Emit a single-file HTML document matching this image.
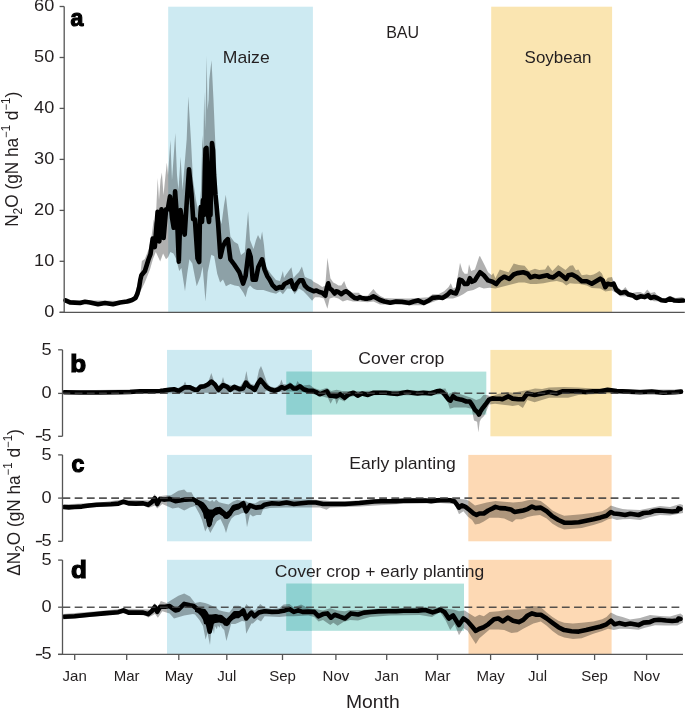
<!DOCTYPE html>
<html><head><meta charset="utf-8"><style>
html,body{margin:0;padding:0;background:#fff;}
body{width:685px;height:709px;overflow:hidden;}
svg{display:block;will-change:transform;}
text{font-family:"Liberation Sans",sans-serif;fill:#231f20;}
</style></head><body>
<svg width="685" height="709" viewBox="0 0 685 709">

<rect x="168.2" y="6.7" width="144.7" height="305.3" fill="#cdeaf2"/>
<rect x="491.2" y="6.7" width="120.9" height="305.3" fill="#fae5b1"/>
<rect x="167" y="349.9" width="145" height="86.4" fill="#cdeaf2"/>
<rect x="490.4" y="349.9" width="121.3" height="86.4" fill="#fae5b1"/>
<rect x="167" y="454.9" width="145" height="86.4" fill="#cdeaf2"/>
<rect x="468.3" y="454.9" width="143.3" height="86.4" fill="#fdd9b4"/>
<rect x="167" y="559.8" width="144.8" height="94.5" fill="#cdeaf2"/>
<rect x="468.5" y="559.8" width="143.1" height="94.5" fill="#fdd9b4"/>
<rect x="286.4" y="371.6" width="199.9" height="43" fill="#b1e2dc"/>
<rect x="286.4" y="371.6" width="25.6" height="43" fill="#8ed1d1"/>
<rect x="286.3" y="583.6" width="177.7" height="47.2" fill="#b1e2dc"/>
<rect x="286.3" y="583.6" width="25.5" height="47.2" fill="#8ed1d1"/>
<path d="M64.5,300 L130,301 L135,294 L138,282 L139.9,276.7 L141.9,261 L144.8,259 L148.8,249 L151.7,235 L153.7,219.4 L155.5,225 L157.7,178 L159,200 L160.5,180 L161.9,172.5 L163.5,195 L166.8,162.6 L168,175 L170.4,140 L172,180 L175.3,133 L177,175 L178.5,190 L180.6,156.7 L182.5,190 L186.7,139 L188.3,96.3 L190.9,139 L193,180 L196,200 L199,215 L201,190 L202.4,135 L203.3,150 L204.2,91.9 L205.2,130 L206.7,55.7 L207.5,110 L208.6,100 L209.3,79.2 L211.5,60.2 L213.5,100 L215.6,150 L217.7,213.8 L221.5,224 L224,205 L225.8,194.7 L227.5,210 L230.4,236.6 L234.2,241.7 L238,244 L241,255 L244.8,252 L246.5,230 L248.1,211.2 L250,240 L253.5,249 L256,240 L258,235 L260.5,240 L262.1,231.5 L264,245 L266,267 L271,274 L276,280 L280,281 L282.9,270.9 L284,278 L285.8,275 L288,272 L291.4,267.2 L293.5,278 L296,275 L299,272 L301.9,266.5 L304.8,276.7 L307.7,278.2 L311.4,279.6 L313.6,281.8 L318,284 L322.3,287 L325.3,285.5 L327.4,257.7 L330.4,278.2 L333.3,282.6 L336.2,284 L338.4,285.5 L341.3,285.5 L344.2,281.1 L346.4,286.9 L349.3,291.3 L353,292.8 L358.8,292.8 L361.7,295.7 L367.6,295.7 L373.4,289.1 L376.4,292.8 L380,295.7 L384.4,297.9 L394.6,298.6 L409.2,298.6 L418,297.9 L428.2,297.2 L432.6,294.2 L438.4,294.2 L444.2,291.3 L448.6,286.9 L450.8,283.3 L453,288.4 L455.9,287 L460,262.8 L462.5,270.9 L464.7,273.8 L467.6,273.8 L469,264.3 L471.2,270.9 L474.9,269.4 L479.3,256.3 L480.1,256.3 L483.8,263.6 L488.1,272.3 L491.8,275.3 L493.2,273.1 L495.4,278.2 L499.8,269.4 L504.2,270.9 L508.6,272.3 L513.7,263.6 L518.8,265 L524.6,265.8 L529,270.9 L534.9,268.7 L539.2,270.1 L545.1,269.4 L548,265 L552.4,270.9 L558.2,265 L562.6,268 L565.5,270.1 L569.9,265.8 L573,265.3 L575.9,270.3 L578.4,269.5 L581.8,275.3 L586.8,274.5 L590.1,275.3 L593.5,274.5 L596.9,272.8 L599.4,271.1 L601.9,273.6 L605.3,281.2 L607.8,277.8 L612,277 L614.5,283.7 L618.7,287.9 L622,290.4 L625.4,287 L628.8,292.1 L632.1,293 L637.1,292.1 L640.5,292.1 L643.9,293.8 L647.2,289.6 L650.6,293 L654.8,292.1 L657.3,295.5 L661.5,298 L665.7,298.8 L670.7,296.3 L675.8,298 L681.6,297.1 L684.5,298 L684.5,302.2 L677.4,302.5 L670.7,301.8 L664,302.5 L659,301.3 L653.9,301.3 L648.9,298.8 L642.2,298.8 L637.1,299.7 L632.1,298 L625.4,296.3 L620.4,296.3 L616.2,293 L612,290.4 L605.3,291.4 L600.2,288.5 L591.8,287.9 L586.8,285.4 L578.4,283.7 L575,283.7 L569.9,283.3 L566.2,285.5 L562.6,282.6 L556.8,281.1 L550.9,281.8 L543.6,283.3 L536.3,284 L530.5,284 L524.6,282.6 L518.8,282.6 L513,284 L504.2,286.2 L495.4,288.4 L489.6,287.7 L483.8,288.4 L479.3,287 L473.4,289.9 L467.6,291.3 L463.2,294.2 L458.8,296.4 L453,298.6 L447.2,298.6 L438.4,300 L423.8,305.2 L409.2,305.2 L394.6,304.5 L380,304.5 L373.4,301.5 L367.6,302.3 L358.8,301.5 L353,301.5 L347.2,300 L342.8,301.5 L338.4,298.6 L334,297.2 L329.6,298.6 L327.4,308.8 L323.8,298.6 L319.4,297.2 L315,297.2 L312.1,300.8 L307.7,295.7 L303.4,291.3 L299,288.4 L294.6,294.2 L291.7,289.1 L287.3,288.4 L282.9,294.2 L280,291.3 L276.1,293.8 L271,292.5 L263.4,290 L257,290 L253.2,288.6 L250,285.5 L247.8,288.4 L245.6,297.2 L243.4,292.8 L239,286.2 L234.7,285.5 L230.3,284 L225.9,286.2 L223,279.6 L220.1,282.6 L217.2,273.8 L214.2,256.3 L211.3,254.8 L207.7,272.3 L205.5,301.5 L202.6,266.5 L200.4,276.7 L196.7,286.2 L192.3,263.6 L189.4,259.2 L187.2,273.8 L185,291.3 L181.4,268 L179.2,270.9 L176.3,259.2 L173.4,253.4 L170.4,251.9 L168.2,257 L166,259.2 L163.1,253.4 L160.2,261.4 L155.8,251.9 L152.9,259.2 L150,269.4 L144.8,282.6 L139.9,292.5 L135,301 L130,303.5 L64.5,302.5Z" fill="rgba(0,0,0,0.31)"/>
<path d="M62.5,390.5 L160,389 L170,387.5 L178,388 L183.5,385 L185,381.5 L186.5,385 L190,385 L196,387.5 L200,384.5 L205,383.5 L208.4,381.5 L211.3,373.1 L214.2,381.5 L218,386.5 L221.5,382.5 L223,376.9 L224.5,382.5 L228,384.5 L232,385.5 L235,384.5 L240,386.5 L244.5,380 L246.4,371 L248,380 L251,384 L255,385 L256.6,381 L259,370 L261,366.1 L263,371 L266.8,382 L270,386.5 L276,387.5 L280,384 L281.4,379.5 L283,384 L287,384.5 L290,382 L292,385 L296,385 L297.4,381 L299,383 L303,385.5 L309.5,384.8 L314,388 L320,390 L327,387.7 L331,391 L336.6,389.8 L342,391 L350,391 L360,391 L380,390.5 L420,390.5 L430,390.5 L440,389 L445.4,388.4 L448,394 L455,391.6 L460,394 L466,396 L472,398 L476.1,400 L480.5,398.6 L483.4,394.9 L487,395 L491,396.4 L498,394 L507,392 L513,392.8 L525,390.5 L530,389.8 L535,388.4 L542,389 L549,387.6 L564,386.9 L578,387.6 L593,388.4 L608,388.4 L620,389.5 L683,389.5 L683,394 L620,393.5 L607.6,393.5 L593,394.2 L578.4,394.9 L568.2,397.8 L558,397.8 L549.2,397.8 L541.9,400 L534.6,402.2 L527.3,400 L522.9,408 L518.4,405 L512.6,405.9 L505,405 L495,403.7 L489.2,404.5 L486.7,410.2 L484.1,416 L481,419 L479.7,421.7 L478.4,432.5 L477.1,421.7 L475.2,421 L474,420.4 L471.7,408.8 L466,407.4 L460,407.4 L454,407.4 L449.8,408.8 L447,400 L444,394 L440,394.2 L430,395.5 L380,395 L355,396 L348,397 L344.6,401.5 L339,399 L336.6,404.4 L335,398.7 L333,399 L330.6,403.8 L328,398 L322.6,396.5 L316.8,395 L308,392.8 L296.3,391.4 L287.6,391.4 L279,392 L267,390.7 L261.3,393.6 L255,392 L250,392.8 L244,392.8 L235,391.4 L220,393 L211,393 L200,392.5 L180,393.5 L160,393.2 L62.5,394Z" fill="rgba(0,0,0,0.31)"/>
<path d="M62.5,504.5 L100,502.5 L123,499.5 L150,500.5 L154.9,494 L157,500 L161,496 L167,495.3 L171,495.3 L178.4,490.8 L184.2,489.4 L187,492.3 L191.5,492.3 L195,499 L199,498.5 L203,499 L206.5,500 L210,501.5 L212.5,500.1 L214,502 L216.2,499.4 L219,502.3 L224,503.5 L228.6,504.5 L232.9,501.6 L237.3,499.7 L241.7,500.8 L245,500.5 L248.4,502.5 L255,503.5 L260,500.5 L270,500 L290,499.5 L312,499.5 L330,501 L350,501 L370,499.5 L400,498.5 L440,498 L454.6,498.9 L460,498.9 L466,499.6 L469.2,501.1 L475,505.4 L480.9,504 L486.7,502.5 L495.5,501.1 L504.2,501.8 L513,502.5 L521.8,501.8 L527.6,500.3 L533.4,499.6 L540.8,501.1 L546.7,505.4 L552.5,510.5 L558.4,513.5 L564.2,515.7 L573,514.9 L581.7,514.2 L593.4,512.7 L602.2,511.3 L606.5,509.1 L610.9,505.4 L616.8,507.6 L622.6,509.1 L628,509.5 L640,510 L650,508 L660,506 L670,507 L680,504 L683,505 L683,513 L670,515.5 L660,515 L650,517 L640,520 L630,519 L622.6,519.3 L616.8,520 L612.4,518.6 L608,519.3 L602.2,522.2 L593.4,525.1 L581.7,528.1 L573,528.8 L564.2,529.5 L558.4,527.3 L552.5,523.7 L546.7,518.6 L540,515 L533.4,515.7 L527.6,517.1 L521.8,519.3 L515.9,519.3 L512.3,522.2 L504.2,518.6 L498.4,517.8 L489.6,517.8 L483.8,521.5 L479.4,523.7 L475,524.4 L472.1,520 L467.7,516.4 L463.4,511.3 L459,514.2 L454.6,504 L440,503 L400,504 L360,506.5 L330,507.5 L326.6,509.8 L320,507.5 L300,507.5 L285,507.6 L270,508 L263,509.5 L261,515 L256.6,514.9 L252.9,516.4 L249.9,514.2 L247,527.3 L245,512.5 L241.7,513.2 L238.8,514.7 L235.1,515.4 L231.5,518.4 L228.6,524.2 L226,533 L224.2,527.1 L220.5,519.1 L216.9,521.3 L213.2,527.8 L210.3,533 L207.5,527 L205.2,531.5 L202,520 L199.4,514 L195,506 L190,507.6 L184.2,510.5 L178.4,507.6 L172.5,508.4 L162.3,504 L157.2,508.4 L155,505.4 L148.3,508 L145,506 L123,504.5 L100,507 L62.5,509.5Z" fill="rgba(0,0,0,0.31)"/>
<path d="M62.5,614 L100,611 L123,608.5 L150,609.5 L154.9,603 L157,609 L160.8,601 L166.7,603.1 L171,600.2 L178.4,595.8 L184.2,593.6 L190,596.6 L195,603 L200,602 L205,603 L208,604 L211.8,605.8 L216,607.3 L219,610.2 L224,611.5 L229.3,612.4 L232,609 L234.4,605.8 L238.8,605.8 L242,607 L245,607.5 L246.2,603.9 L251.4,609 L255,610.4 L260.2,603.9 L264.6,607.5 L271.9,609 L279.2,608.2 L283.6,604.6 L289.4,603.9 L293.8,607.5 L301.1,604.6 L308.4,608.2 L315.7,609 L323,610.4 L330.3,608.2 L337.6,610.4 L344.9,611.2 L350,610 L360,610 L380,608.5 L420,607.5 L440,607.5 L448.8,609 L454.6,609.7 L459,611.2 L464.8,610.4 L469.2,613.4 L475,617 L479.4,614.8 L483.8,616.3 L489.6,611.9 L498.4,611.2 L507.2,609.7 L515.9,609.7 L524.7,609 L532,606.1 L540,606.5 L546.7,612.6 L552.5,617 L558.4,620.7 L564.2,622.8 L573,623.6 L581.7,622.8 L593.4,621.4 L602.2,619.2 L606.5,617 L610.9,612.6 L616.8,615.5 L622.6,617 L630,619.5 L640,618 L650,615 L660,616 L670,616.5 L680.4,613.4 L683,615.5 L683,622.6 L677.3,625.6 L666.1,625.6 L655,625.2 L645,627.7 L638.5,629.8 L630,629 L625.5,628.7 L619.7,628.7 L613.8,630.1 L608,628.7 L602.2,630.9 L593.4,633.8 L581.7,638.2 L573,638.9 L564.2,637.4 L558.4,635.3 L552.5,630.9 L546.7,625.8 L540.8,621.4 L533.4,623.6 L527.6,626.5 L523.2,628.7 L517.4,632.3 L511.5,633.1 L504.2,630.1 L498.4,629.4 L489.6,629.4 L483.8,634.5 L479.4,638.2 L475.8,644 L472.1,638.2 L467.7,630.9 L463.4,628 L459,635.3 L454.6,624.3 L450.2,630.1 L445.8,620.7 L440,612 L432,617 L420,615 L390,615.5 L370,617 L358,620.5 L350,619.9 L343.4,622.1 L337.6,625.8 L333.3,622.8 L330.3,625 L323,619.9 L318.6,621.4 L314.2,617 L308.4,615.5 L293.8,616.3 L286.5,616.3 L279.2,617 L264.6,616.3 L261,621.4 L257.3,619.2 L252.9,623.6 L251.4,623.6 L246.2,633.8 L245,621.5 L242,621 L238.8,622.6 L235.1,624.1 L231.1,624.1 L228.6,633 L226.4,640.9 L224.2,630 L222.2,628 L220.5,625 L219.5,627.7 L217.8,625.5 L216.9,629.2 L214.8,626 L214,634 L212.5,626 L211,634 L210,645 L207.5,633 L205.6,639.4 L203,626 L199.4,620 L195,614.5 L193,614.1 L184.2,615.5 L174,618.5 L169.6,613.4 L162.3,611.2 L157.9,617.7 L155,614.1 L148.3,617.5 L145,615.5 L123,613.5 L100,616 L62.5,619.5Z" fill="rgba(0,0,0,0.31)"/>
<path d="M195,499.4 L197.9,500.8 L202.3,501.9 L204,503 L206,505.2 L208.1,508.5 L209.6,509.6 L212.5,509.6 L215.4,507.4 L217.6,507 L220.5,508.5 L223.5,510.7 L226.4,512.2 L229.3,510 L231.5,506.7 L234.4,505.2 L237.3,504.5 L240.3,503.8 L243.2,502.3 L245,502.3 L245,508.1 L241.7,507.4 L238.8,509.6 L235.9,510.3 L233,511.8 L230.8,513.2 L229.3,517.7 L227.1,519.1 L224.2,518.4 L222.7,516.2 L219.1,514 L215.4,515.4 L212.9,518.4 L211.8,524.2 L209.6,527.5 L207.8,526.4 L206,519.1 L204.1,518.4 L203,513.2 L200.8,508.9 L197.9,505.5 L195,504.5Z" fill="#000"/>
<path d="M195,606.6 L197.9,608 L202.3,608.4 L205.2,609.1 L207.4,611.7 L208.9,614.6 L211.8,614.6 L215.4,613.9 L216.9,614.2 L220.5,616.1 L224.2,617.9 L226.4,619 L229.3,617.5 L231.5,613.9 L234.4,612.4 L237.3,612.8 L240.3,611.7 L243.2,608.8 L245,609.5 L245,616.8 L241.7,616.1 L238.8,618.2 L235.9,618.2 L233,619.7 L230.8,621.9 L229.3,624.8 L227.1,626.3 L224.2,625.5 L222.7,623.4 L219.1,622.6 L215.4,623 L212.9,624.1 L211.8,631.4 L210,633.9 L208.1,632.8 L206.7,624.8 L204.1,624.1 L203,619.7 L200.8,616.1 L197.9,613.1 L195,611.7Z" fill="#000"/>
<polyline points="65.5,300.3 70,302.4 80,303 85,301.8 90,302.5 98,304.2 105,303 113,304.2 120,302.5 127,301.5 132,300 135.5,298 137.5,293.5 139.2,287 140.3,280 141.4,275.3 144.9,271 148.4,259.8 150.5,254.1 152.7,238.6 154.8,247.1 157.6,211.8 159.3,241.4 161.5,209.2 163.6,238 166.1,209.2 167.8,209.2 170,196.4 172,217.6 173.7,227.8 175.1,191.4 177.1,219.3 178.8,261.7 180.5,210 183,227.8 184.7,234.6 186.4,207.5 189,169.3 191.5,193.9 193.2,219.3 194.9,219.3 197.5,258.3 199.2,262 199.8,225 200.8,207 202,222 203,200 204,215 204.8,172 205.5,149 206.5,148 207.3,175 208,215 209,222 209.8,200 210.5,215 211.3,170 212,143 213,150 214,175 215.5,195 216.5,205 218,222 220.4,257 222.8,246.8 225.3,241.7 227.8,239.1 230.4,259.4 234.2,264.5 236.7,268.3 239.3,272.1 243.1,283.6 245.6,276 248.7,250.6 250.7,256.9 252.7,279.7 255.8,279.7 258.3,267 262.1,259.4 264.6,269.6 267.2,275.9 269.7,279.7 272.3,284.8 276.1,288.6 280,287 282.2,287.7 284.4,284 287.3,282.6 291,280.4 293.1,286.9 294.6,289.1 296.8,284 299.7,280.4 302.6,280.4 304.8,285.5 307.7,288.4 310.7,289.9 313.6,291.3 316.5,290.6 319.4,292 322.3,292.8 325.3,295.7 326.7,288.4 328.2,283.3 329.6,288.4 331.8,289.9 334.7,293.5 336.2,291.3 338.4,292 341.3,294.2 344.2,292 346.4,291.3 348.6,292.8 351.5,295.7 354.5,297.9 357.4,298.6 359.6,297.2 361.8,297.9 364.7,298.6 367.6,298.6 370.5,297.9 373.4,296.4 376.4,297.9 380,300 384.4,301.5 390.2,302.7 396.1,301.5 401.9,301.8 409.2,303 413.6,301.5 418,300.4 423.8,303 428.2,300.8 432.6,297.9 438.4,297.2 442.8,297.9 447.2,295 450.8,291.3 453,292.8 455.9,293.5 458.1,288.4 459.6,279.6 461.8,280.4 464.7,284 467.6,284 469.8,278.2 472,281.8 474.9,280.4 477.1,276.7 480.1,272.3 483.8,275.3 488.1,280.4 492.5,281.8 496.2,284 499.8,279.6 504.2,276.7 509.3,278.9 513.7,274.5 517.3,273.1 523.2,272.3 527.6,273.8 530.5,277.4 534.9,276 539.2,277 543.6,276 547.3,275.3 549.5,276.7 553.1,277.4 556,275.3 558.9,273.1 562.6,276 566.2,278.9 568.4,275.3 572.1,274.5 576.7,277 581.8,281.2 586.8,281.2 591.8,283.7 596,281.2 600.2,278.7 602.7,280.4 605.3,287.1 607.8,283.7 611.1,284.6 613.6,283.7 616.2,289.6 620.4,293 625.4,292.1 628.8,294.6 633,295.5 636.3,298 640.5,296.3 644.7,297.1 648,295.1 650.6,298 653.9,296.8 657.3,298 661.5,300.2 665.7,300.8 669.9,298.5 674.1,300.5 679.1,300.8 683,300.5" fill="none" stroke="#000" stroke-width="4.6" stroke-linejoin="round" stroke-linecap="round"/>
<polyline points="64.3,392.3 80,392.5 100,392.5 120,392.2 130,392 140,391.3 150,391.2 160,391 163.5,390.6 169.3,389.8 174,389.2 178.7,391 184.5,387.4 189.8,387.4 195,389.8 197.4,389.8 200.3,386.9 204.4,386.3 207.9,384.5 211.4,381.6 214.9,384.5 218.4,389.8 223.1,385.1 227.2,386.9 230.1,389.8 234.2,386.9 239.4,389.2 243,388.5 246,382.6 248.9,386.3 251.8,387.7 254.7,389.9 257.6,384.1 260.5,379.7 263.5,383.4 266.4,387 270,389.2 274.4,390.7 278.8,389.2 281.7,387 284.6,388.5 287.6,387 290.5,385.5 293.4,388.5 296.3,388.5 300,386.3 303.6,389.2 308,390.7 312.4,390.7 316,392.1 319.7,394.3 323.3,392.8 327,391.4 329.9,395.8 332.8,395.8 336.6,396.4 340.2,394.2 344.6,397.8 349,394.2 353.4,392.7 357.7,395.7 362.1,393.5 368,394.9 373.8,392.7 379.6,392.7 385.5,392.7 391.3,393.5 397.2,393.9 403,392.7 407.4,392 411.8,392.7 417.6,393.5 423.4,392.7 430.8,393.5 436.7,391.3 440,390.9 442.6,392.3 445.3,395.3 448.8,399.7 450.5,400.6 453.1,396.2 455.8,398.4 459.3,399.3 462.8,400.1 466.3,401.5 469.8,401.5 472.4,405.4 475,409.8 477.7,412.4 479,414.6 480.3,411.5 482,408.9 485.5,404.5 489,399.7 492.5,398.4 496,398.8 500,398.8 502.4,399.3 508.2,396.4 512.6,398.6 518.4,399.3 522.9,399.3 527.3,393.5 534.6,394.9 541.9,393.5 549.2,392 556.5,393.5 562.3,391.3 571.1,391.3 578.4,391.3 585.7,392 593,391.3 600.3,391.3 607.6,389.8 616.7,391 628.4,391.6 640,392.2 651.7,391.6 663.4,392.8 675,392.2 681,391.6" fill="none" stroke="#000" stroke-width="4.6" stroke-linejoin="round" stroke-linecap="round"/>
<polyline points="64.3,507 68.8,507.4 74.6,507 81.9,506.6 89.2,505.5 96.5,504.8 103.8,504.5 111.1,504.2 118.4,503.6 123.5,501.6 128.6,503.4 135.9,503.6 143.2,503.4 148.3,504.8 152,501.9 154.9,498.2 157.2,504 160.1,498.9 163.8,499.6 169.6,498.9 175.4,501.1 181.3,500.3 185.7,499.6 193,499.3 197.3,501.8 201.7,504 205.4,509.1 207.6,514.2 209.3,524.4 211.2,515.7 214.9,512 219.2,509.1 223.6,512.7 226.5,516.4 229.5,514.2 233.8,506.9 239.7,505.4 243.3,503.2 246.2,511.3 249.9,505.4 255.8,507.6 261.7,506.9 264.6,504.7 271.9,503.2 279.2,503.7 286.5,502.5 293.8,504 301.1,503.2 308.4,502.5 315.7,502.5 323,504 327.4,504 331.8,504 337.6,504 344.9,504 352.3,503.5 359.6,503 366.9,502.3 374.2,501.5 381.5,501.3 388.8,501.3 396.1,501.2 403.4,500.8 410.7,500.6 418,500.6 425.3,500.5 431.1,501.2 437,500.4 444.4,500 450.2,500.2 454.6,501.5 457.5,505.4 459,507.6 461.9,505.4 465.5,506.9 469.2,509.8 473.6,513.5 476.5,514.9 479.4,513.5 483.8,513.5 488.2,510.5 492.6,508.4 495.5,506.9 499.9,508.1 505.7,508.4 511.5,509.8 514.5,512 518.8,511.3 523.2,510.5 527.6,509.1 532,506.6 535.6,508.1 540.8,507.6 546.7,511.3 552.5,516.4 558.4,520 564.2,522.7 571.5,522.7 578.8,522.2 586.1,520.8 593.4,519.3 600.7,517.4 606.5,515.7 610.9,512 613.8,513.5 619.1,514 625.2,515 630.3,513.7 638.5,515 643.6,513 649.7,512.5 653.8,511 658.9,510.4 666.1,511 672.2,511.5 677.3,511 678.5,508.4 680.5,508.9" fill="none" stroke="#000" stroke-width="4.6" stroke-linejoin="round" stroke-linecap="round"/>
<polyline points="64.3,616.7 74.6,616.3 89.2,614.8 103.8,613.4 118.4,612.2 123.5,610.4 128.6,612.6 143.2,612.6 148.3,614.1 152,611 154.9,606.8 157.2,611.9 160.1,606.8 165.2,606.8 169.6,606.1 175.4,610.4 178.4,609.7 184.2,603.9 190,605.3 193.7,606.1 197.3,609 201.7,611.9 205.4,614.8 207.6,622.1 209.7,631.6 211.9,622.1 216.3,617 220.7,617 226.5,622.1 230.9,617.7 234.6,613.4 239.7,613.4 243.3,610.4 246.2,618.5 251.4,612.6 254.4,616.3 258.8,612.6 264.6,611.2 271.9,611.9 279.2,611.6 285,610.4 289.4,609 293.8,611.9 298.2,610.4 302.6,611.9 308.4,611.6 314.2,611.9 318.6,616.3 323,614.1 327.4,613.4 331,617.7 334.7,614.8 339.1,616.3 344.9,618.5 350.8,613.4 358.1,614.5 364,612.6 371.3,612 378.6,611.4 388.8,611.2 396.1,611.3 403.4,610.8 410.7,610.8 418,610.6 425.3,610 432.6,612.4 438.4,610.5 440,609.5 444.4,611.9 448.8,618.5 453.1,615.5 459,625 463.4,618.5 467.7,621.4 472.1,626.5 475.8,630.9 479.4,628.7 483.8,627.2 488.2,624.3 494,619.2 498.4,618.5 502.8,621.4 507.9,617.7 513,620.7 518.8,622.1 523.2,619.9 527.6,615.5 532,613.4 536.4,614.8 540.8,614.8 546.7,618.5 552.5,622.8 558.4,627.2 564.2,630.1 571.5,631.2 578.8,631.6 586.1,630.1 593.4,628.2 600.7,626.5 606.5,624.3 610.9,620.7 614.6,624.3 619.1,623.1 625.2,624.6 630.3,623.6 638.5,625.1 643.6,622.6 649.7,622.1 653.8,620.3 658.9,619.7 666.1,620.5 672.2,621 677.3,620.5 678.5,618.5 680.5,619" fill="none" stroke="#000" stroke-width="4.6" stroke-linejoin="round" stroke-linecap="round"/>
<line x1="62.5" y1="393.3" x2="681" y2="393.3" stroke="rgba(60,60,60,0.87)" stroke-width="1.6" stroke-dasharray="7.8 4.38"/>
<line x1="62.5" y1="498.1" x2="681" y2="498.1" stroke="rgba(60,60,60,0.87)" stroke-width="1.6" stroke-dasharray="7.8 4.38"/>
<line x1="62.5" y1="607.2" x2="681" y2="607.2" stroke="rgba(60,60,60,0.87)" stroke-width="1.6" stroke-dasharray="7.8 4.38"/>
<g stroke="#555" stroke-width="1.3" fill="none">
<path d="M64.2,6.5V312.3M59.6,312.3H684.8"/>
<path d="M59.6,6.5H64.2"/>
<path d="M59.6,57.5H64.2"/>
<path d="M59.6,108.4H64.2"/>
<path d="M59.6,159.4H64.2"/>
<path d="M59.6,210.4H64.2"/>
<path d="M59.6,261.3H64.2"/>
<path d="M59.6,312.3H64.2"/>
<path d="M62.5,349.8V436.3"/>
<path d="M58.1,349.8H62.5"/>
<path d="M58.1,393.4H62.5"/>
<path d="M58.1,436.3H62.5"/>
<path d="M62.5,454.9V541.3"/>
<path d="M58.1,454.9H62.5"/>
<path d="M58.1,498.1H62.5"/>
<path d="M58.1,541.3H62.5"/>
<path d="M62.5,560.1V654.4"/>
<path d="M58.1,560.1H62.5"/>
<path d="M58.1,607.2H62.5"/>
<path d="M58.1,654.4H62.5"/>
<path d="M58.1,654.4H683"/>
<path d="M74.7,654.4V660"/>
<path d="M126.7,654.4V660"/>
<path d="M178.8,654.4V660"/>
<path d="M226.8,654.4V660"/>
<path d="M282.5,654.4V660"/>
<path d="M335.9,654.4V660"/>
<path d="M386.7,654.4V660"/>
<path d="M437.5,654.4V660"/>
<path d="M490.6,654.4V660"/>
<path d="M537.5,654.4V660"/>
<path d="M594.6,654.4V660"/>
<path d="M646.6,654.4V660"/>
</g>
<text transform="translate(54.3,11.3) scale(1.1,1)" font-size="16.5" text-anchor="end">60</text>
<text transform="translate(54.3,62.3) scale(1.1,1)" font-size="16.5" text-anchor="end">50</text>
<text transform="translate(54.3,113.2) scale(1.1,1)" font-size="16.5" text-anchor="end">40</text>
<text transform="translate(54.3,164.2) scale(1.1,1)" font-size="16.5" text-anchor="end">30</text>
<text transform="translate(54.3,215.2) scale(1.1,1)" font-size="16.5" text-anchor="end">20</text>
<text transform="translate(54.3,266.1) scale(1.1,1)" font-size="16.5" text-anchor="end">10</text>
<text transform="translate(54.3,317.1) scale(1.1,1)" font-size="16.5" text-anchor="end">0</text>
<text transform="translate(51.7,354.8) scale(1.1,1)" font-size="16.5" text-anchor="end">5</text>
<text transform="translate(51.7,398.4) scale(1.1,1)" font-size="16.5" text-anchor="end">0</text>
<text transform="translate(51.7,441.3) scale(1.1,1)" font-size="16.5" text-anchor="end">5</text>
<rect x="35.9" y="435.9" width="6.1" height="1.5" fill="#231f20"/>
<text transform="translate(51.7,459.9) scale(1.1,1)" font-size="16.5" text-anchor="end">5</text>
<text transform="translate(51.7,503.1) scale(1.1,1)" font-size="16.5" text-anchor="end">0</text>
<text transform="translate(51.7,546.3) scale(1.1,1)" font-size="16.5" text-anchor="end">5</text>
<rect x="35.9" y="540.8" width="6.1" height="1.5" fill="#231f20"/>
<text transform="translate(51.7,565.1) scale(1.1,1)" font-size="16.5" text-anchor="end">5</text>
<text transform="translate(51.7,612.2) scale(1.1,1)" font-size="16.5" text-anchor="end">0</text>
<text transform="translate(51.7,659.4) scale(1.1,1)" font-size="16.5" text-anchor="end">5</text>
<rect x="35.9" y="653.9" width="6.1" height="1.5" fill="#231f20"/>
<text x="74.7" y="681" font-size="15" text-anchor="middle">Jan</text>
<text x="126.7" y="681" font-size="15" text-anchor="middle">Mar</text>
<text x="178.8" y="681" font-size="15" text-anchor="middle">May</text>
<text x="226.8" y="681" font-size="15" text-anchor="middle">Jul</text>
<text x="282.5" y="681" font-size="15" text-anchor="middle">Sep</text>
<text x="335.9" y="681" font-size="15" text-anchor="middle">Nov</text>
<text x="386.7" y="681" font-size="15" text-anchor="middle">Jan</text>
<text x="437.5" y="681" font-size="15" text-anchor="middle">Mar</text>
<text x="490.6" y="681" font-size="15" text-anchor="middle">May</text>
<text x="537.5" y="681" font-size="15" text-anchor="middle">Jul</text>
<text x="594.6" y="681" font-size="15" text-anchor="middle">Sep</text>
<text x="646.6" y="681" font-size="15" text-anchor="middle">Nov</text>
<text transform="translate(372.8,707.6) scale(1.075,1)" font-size="18" text-anchor="middle">Month</text>
<text transform="translate(70.6,25.9) scale(0.95,1)" font-size="24.3" font-weight="bold" style="fill:#000" stroke="#000" stroke-width="1.2">a</text>
<text transform="translate(70.2,371.6) scale(1.07,1)" font-size="24.3" font-weight="bold" style="fill:#000" stroke="#000" stroke-width="1.2">b</text>
<text transform="translate(71.4,472.2) scale(0.95,1)" font-size="24.3" font-weight="bold" style="fill:#000" stroke="#000" stroke-width="1.2">c</text>
<text transform="translate(70.9,578.1) scale(1.07,1)" font-size="24.3" font-weight="bold" style="fill:#000" stroke="#000" stroke-width="1.2">d</text>
<text transform="translate(222.8,63.4) scale(1.1,1)" font-size="16" text-anchor="start">Maize</text>
<text transform="translate(386.2,37.7) scale(1.0,1)" font-size="16" text-anchor="start">BAU</text>
<text transform="translate(524.6,62.7) scale(1.06,1)" font-size="16" text-anchor="start">Soybean</text>
<text transform="translate(358.3,364) scale(1.1,1)" font-size="16" text-anchor="start">Cover crop</text>
<text transform="translate(349.2,469.4) scale(1.1,1)" font-size="16" text-anchor="start">Early planting</text>
<text transform="translate(274.8,576.7) scale(1.094,1)" font-size="16" text-anchor="start">Cover crop + early planting</text>
<text transform="translate(17.6,159.3) rotate(-90) scale(0.956,1)" font-size="18" text-anchor="middle">N<tspan font-size="12.5" dy="4">2</tspan><tspan dy="-4">O (gN ha</tspan><tspan font-size="12" dy="-8">−1</tspan><tspan dy="8"> d</tspan><tspan font-size="12" dy="-8">−1</tspan><tspan dy="8">)</tspan></text>
<text transform="translate(19.5,502.5) rotate(-90) scale(0.957,1)" font-size="18" text-anchor="middle">ΔN<tspan font-size="12.5" dy="4">2</tspan><tspan dy="-4">O (gN ha</tspan><tspan font-size="12" dy="-8">−1</tspan><tspan dy="8"> d</tspan><tspan font-size="12" dy="-8">−1</tspan><tspan dy="8">)</tspan></text>
</svg></body></html>
